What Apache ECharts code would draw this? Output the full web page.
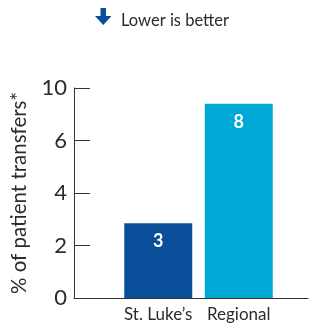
<!DOCTYPE html>
<html>
<head>
<meta charset="utf-8">
<script src="https://cdn.jsdelivr.net/npm/echarts@6/dist/echarts.min.js"></script>
<style>
  html, body { margin: 0; padding: 0; background: #fff; }
  #chart { width: 318px; height: 330px; }
</style>
</head>
<body>
<div id="chart"></div>
<script>
// chart data
var categories = ["St. Luke\u2019s", 'Regional'];
var barValues = [2.85, 7.4];       // bar heights as drawn against the axis
var barLabels = ['3', '8'];        // numbers printed on the bars
var barColors = ['#0a4f9a', '#00a8d6'];
var tickValues = [0, 2, 4, 6, 8];
var tickLabels = ['0', '2', '4', '6', '10'];

var font = 'Lato, "Open Sans", sans-serif';
var textColor = '#2b2b2b';

var myChart = echarts.init(document.getElementById('chart'), null, { renderer: 'canvas' });

var option = {
  animation: false,
  title: {
    text: 'Lower is better',
    left: 116,
    top: 7,
    textStyle: { fontFamily: font, fontSize: 16.5, fontWeight: 'normal', color: textColor }
  },
  // the little "down" arrow beside the title
  graphic: [
    {
      type: 'polygon',
      shape: {
        points: [[100.5, 8], [106, 8], [106, 16], [111.5, 16], [103.25, 25], [95, 16], [100.5, 16]]
      },
      style: { fill: '#0a4f9a' }
    }
  ],
  grid: [
    { left: 74, right: 10, top: 88, bottom: 32 },   // frame: axis lines
    { left: 118, width: 161, top: 88, bottom: 32 }  // bars
  ],
  xAxis: [
    {
      type: 'value',
      gridIndex: 0,
      axisLine: { show: true, lineStyle: { color: '#333', width: 1 } },
      axisTick: { show: false },
      axisLabel: { show: false },
      splitLine: { show: false }
    },
    {
      type: 'category',
      gridIndex: 1,
      data: categories,
      axisLine: { show: false },
      axisTick: { show: false },
      axisLabel: { interval: 0, hideOverlap: false, fontFamily: font, fontSize: 17, color: textColor, margin: 8 }
    }
  ],
  yAxis: [
    {
      type: 'value',
      gridIndex: 0,
      min: 0,
      max: 8,
      interval: 2,
      name: '% of patient transfers*',
      nameLocation: 'middle',
      nameGap: 44,
      nameTextStyle: { fontFamily: font, fontSize: 20.5, color: textColor },
      axisLine: { show: true, lineStyle: { color: '#333', width: 1 } },
      axisTick: { show: true, inside: true, length: 16, lineStyle: { color: '#333' } },
      axisLabel: {
        fontFamily: font,
        fontSize: 22,
        color: textColor,
        margin: 7,
        formatter: function (v) {
          var i = tickValues.indexOf(v);
          return i >= 0 ? tickLabels[i] : '';
        }
      },
      splitLine: { show: false }
    },
    {
      type: 'value',
      gridIndex: 1,
      min: 0,
      max: 8,
      show: false
    }
  ],
  series: [
    {
      type: 'bar',
      xAxisIndex: 1,
      yAxisIndex: 1,
      barWidth: 68,
      data: barValues.map(function (v, i) {
        return { value: v, itemStyle: { color: barColors[i] } };
      }),
      label: {
        show: true,
        position: 'insideTop',
        distance: 9,
        fontFamily: font,
        fontSize: 18,
        fontWeight: 'bold',
        color: '#fff',
        formatter: function (p) { return barLabels[p.dataIndex]; }
      }
    }
  ]
};

myChart.setOption(option);
window.addEventListener('resize', myChart.resize);
</script>
</body>
</html>
